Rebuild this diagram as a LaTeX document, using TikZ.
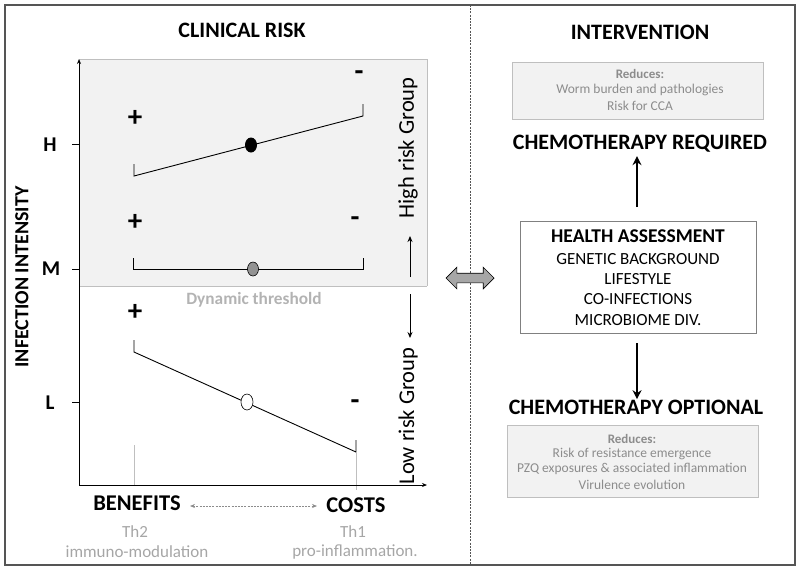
\documentclass[tikz,border=0pt]{standalone}
\usepackage{fontspec}
\setmainfont{Carlito}
\usetikzlibrary{arrows.meta,shapes.arrows}
\definecolor{bggray}{HTML}{F2F2F2}
\definecolor{edgegray}{HTML}{BFBFBF}
\definecolor{txtgray}{HTML}{A6A6A6}
\definecolor{dimgray}{HTML}{8C8C8C}
\definecolor{framegray}{HTML}{555555}
\tikzset{
  hdr/.style={font=\fontsize{22}{25}\selectfont\bfseries},
  bigtitle/.style={font=\fontsize{22}{25}\selectfont\bfseries},
  lvl/.style={font=\fontsize{21}{24}\selectfont\bfseries},
  sign/.style={font=\fontsize{29}{31}\selectfont\bfseries},
  grp/.style={font=\fontsize{22.5}{25}\selectfont, rotate=90},
  axislbl/.style={font=\fontsize{22.5}{25}\selectfont\bfseries},
  graylbl/.style={font=\fontsize{17}{19}\selectfont, text=txtgray},
  reducebox/.style={draw=edgegray, fill=bggray, line width=0.6pt},
  redhead/.style={font=\fontsize{13}{15}\selectfont\bfseries, text=dimgray},
  redtxt/.style={font=\fontsize{13.5}{16}\selectfont, text=dimgray},
  hatxt/.style={font=\fontsize{17}{20}\selectfont},
  bracket/.style={line width=0.9pt, black},
  dotmark/.style={draw=black, line width=0.6pt},
  bigarrow/.style={line width=2.4pt, -{Stealth[length=9pt,width=9pt]}},
  thinarrow/.style={line width=0.9pt, -{Stealth[length=6pt,width=5pt]}},
}
\begin{document}
\begin{tikzpicture}[x=1pt,y=-1pt]
\useasboundingbox (0,0) rectangle (800,571);
% frame
\draw[framegray, line width=1.3pt] (5,5) rectangle (795,565);
\draw[framegray, line width=0.7pt, dash pattern=on 2pt off 1.2pt] (470,5) -- (470,565);
% titles
\node[hdr] (clin) at (242,30) {CLINICAL RISK};
\node[hdr] (interv) at (640,32) {INTERVENTION};
% high risk area
\fill[bggray] (79,59) rectangle (427,286);
\draw[edgegray, line width=0.8pt] (79,59) -- (427,59) -- (427,286);
\draw[edgegray, line width=1pt] (79,286) -- (427,286);
% faint verticals
\draw[edgegray, line width=0.5pt] (134,445) -- (134,485);
\draw[edgegray, line width=0.5pt] (356,453) -- (356,490);
% axes
\coordinate (orig) at (79,485);
\coordinate (ytop) at (79,59);
\coordinate (xend) at (427,485);
\draw[line width=0.9pt, -{Stealth[length=5pt,width=4pt]}] (orig) -- (ytop);
\draw[line width=0.9pt, -{Stealth[length=5pt,width=4pt]}] (orig) -- (xend);
% ticks and levels
\draw[line width=0.8pt] (72,144) -- (79,144);
\draw[line width=0.8pt] (72,269) -- (79,269);
\draw[line width=0.8pt] (72,402) -- (79,402);
\node[lvl] (H) at (50,145) {H};
\node[lvl] (M) at (51,269) {M};
\node[lvl] (L) at (50,403) {L};
\node[font=\fontsize{20}{22}\selectfont\bfseries, rotate=90] (ii) at (22,277) {INFECTION INTENSITY};
% high
\draw[bracket] (134,164) -- (134,176) -- (363,116) -- (363,104);
\fill[black] (251,145) ellipse (6 and 7.5);
\node[sign] (p1) at (135,118) {+};
\node[sign] (m1) at (359,76) {-};
% medium
\draw[bracket] (133,258) -- (133,269) -- (363,269) -- (363,258);
\filldraw[fill=gray!85, dotmark] (253,269) ellipse (5.5 and 7);
\node[sign] (p2) at (135,222) {+};
\node[sign] (m2) at (355,222) {-};
% low
\draw[bracket] (134,340) -- (134,352) -- (356,452) -- (356,440);
\filldraw[fill=white, dotmark] (247,402) ellipse (6 and 8);
\node[sign] (p3) at (135,312) {+};
\node[sign] (m3) at (355,405) {-};
% threshold
\node[font=\fontsize{17.3}{19}\selectfont\bfseries, text=txtgray!85] (thr) at (254,300) {Dynamic threshold};
% groups
\node[grp] (hg) at (408,148) {High risk Group};
\node[grp] (lg) at (408,416) {Low risk Group};
\coordinate (ua1) at (410,277);
\coordinate (ua2) at (410,236);
\coordinate (da1) at (410,294);
\coordinate (da2) at (410,338);
\draw[thinarrow] (ua1) -- (ua2);
\draw[thinarrow] (da1) -- (da2);
% x labels
\node[axislbl] (ben) at (137,503) {BENEFITS};
\node[axislbl] (cost) at (356,505) {COSTS};
\coordinate (dd1) at (190,506);
\coordinate (dd2) at (317,506);
\draw[dimgray, line width=0.7pt, dash pattern=on 2pt off 1.2pt, {Stealth[length=5pt,width=4pt]}-{Stealth[length=5pt,width=4pt]}] (dd1) -- (dd2);
\node[graylbl] (th2) at (135,532) {Th2};
\node[graylbl] (imm) at (137,552) {immuno-modulation};
\node[graylbl] (th1) at (353,532) {Th1};
\node[graylbl] (pro) at (355,552) {pro-inflammation.};
% block double arrow
\node[double arrow, draw=black, fill=gray!70, line width=0.7pt, inner sep=4.5pt, minimum width=21pt, minimum height=48pt, double arrow head extend=6pt] (dbl) at (470,278) {};
% right side
\node[reducebox, minimum width=251pt, minimum height=57pt] (rbox1) at (637.5,90.5) {};
\node[redhead] (r1h) at (640,74) {Reduces:};
\node[redtxt] (r1a) at (640,90) {Worm burden and pathologies};
\node[redtxt] (r1b) at (640,106) {Risk for CCA};
\node[bigtitle] (req) at (640,144) {CHEMOTHERAPY REQUIRED};
\node[draw=gray, line width=0.8pt, fill=white, minimum width=236pt, minimum height=112pt] (ha) at (638,277) {};
\node[font=\fontsize{19.5}{22}\selectfont\bfseries] (hat) at (638,236) {HEALTH ASSESSMENT};
\node[hatxt] (ha1) at (638,259) {GENETIC BACKGROUND};
\node[hatxt] (ha2) at (638,279) {LIFESTYLE};
\node[hatxt] (ha3) at (638,299) {CO-INFECTIONS};
\node[hatxt] (ha4) at (638,320) {MICROBIOME DIV.};
\node[bigtitle] (opt) at (636,407) {CHEMOTHERAPY OPTIONAL};
\coordinate (upstart) at (637,207);
\coordinate (dnstart) at (637,343);
\draw[bigarrow] (upstart) -- (upstart |- req.south);
\draw[bigarrow] (dnstart) -- ([yshift=-3pt]dnstart |- opt.north);
\node[reducebox, minimum width=251pt, minimum height=72pt] (rbox2) at (632.5,461) {};
\node[redhead] (r2h) at (632,439) {Reduces:};
\node[redtxt] (r2a) at (632,454) {Risk of resistance emergence};
\node[redtxt] (r2b) at (632,469) {PZQ exposures \& associated inflammation};
\node[redtxt] (r2c) at (632,485) {Virulence evolution};
\end{tikzpicture}
\end{document}
